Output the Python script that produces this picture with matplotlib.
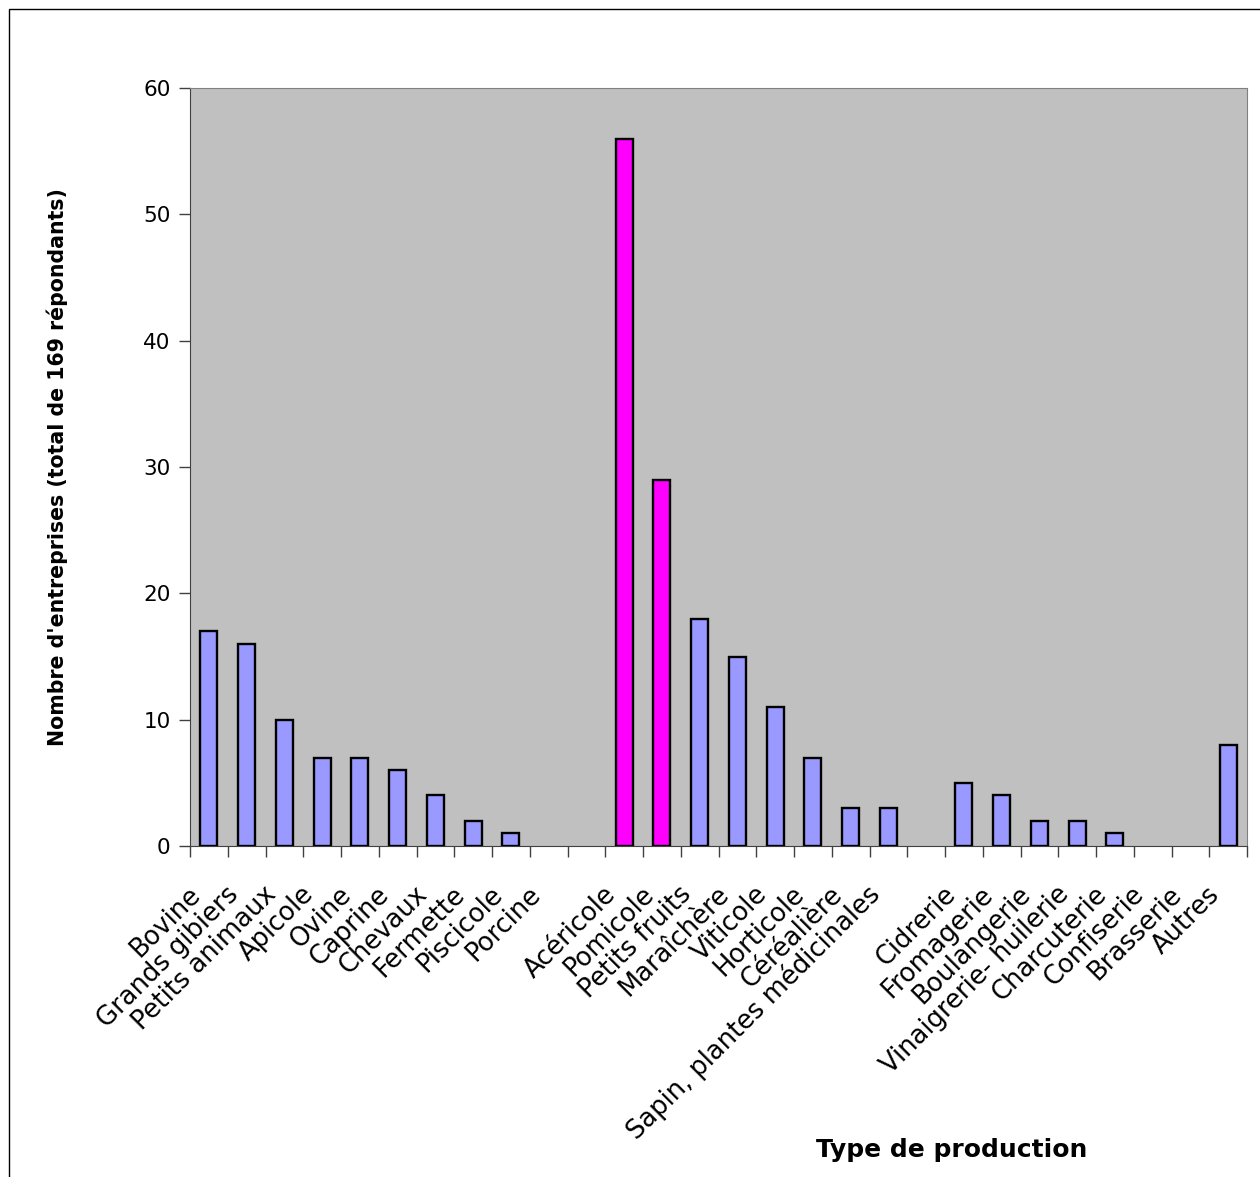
import numpy as np
import matplotlib.pyplot as plt
import matplotlib.transforms as mtransforms
from matplotlib.patches import Rectangle

# categories (empty strings are the gaps between groups)
categories = ['Bovine', 'Grands gibiers', 'Petits animaux', 'Apicole', 'Ovine',
              'Caprine', 'Chevaux', 'Fermette', 'Piscicole', 'Porcine', '',
              'Acéricole', 'Pomicole', 'Petits fruits', 'Maraîchère', 'Viticole',
              'Horticole', 'Céréalière', 'Sapin, plantes médicinales', '',
              'Cidrerie', 'Fromagerie', 'Boulangerie', 'Vinaigrerie- huilerie',
              'Charcuterie', 'Confiserie', 'Brasserie', 'Autres']
counts = [17, 16, 10, 7, 7, 6, 4, 2, 1, 0, 0,
          56, 29, 18, 15, 11, 7, 3, 3, 0,
          5, 4, 2, 2, 1, 0, 0, 8]
highlight = ['Acéricole', 'Pomicole']

BLUE = '#9999FF'
MAGENTA = '#FF00FF'

fig = plt.figure(figsize=(12.6, 11.77), dpi=100)
ax = fig.add_axes([190/1260, 1-846/1177, (1247-190)/1260, (846-88)/1177])

x = np.arange(len(categories))
colors = [MAGENTA if c in highlight else BLUE for c in categories]
lw = [1.7 if v > 0 else 0 for v in counts]
ax.bar(x, counts, width=0.45, color=colors, edgecolor='black', linewidth=lw, zorder=3)

ax.set_facecolor('#C0C0C0')
ax.set_xlim(-0.5, len(categories) - 0.5)
ax.set_ylim(0, 60)
ax.set_yticks(range(0, 61, 10))
ax.tick_params(axis='y', labelsize=15.5, length=8, width=1, color='#404040', pad=6)

# ticks between categories, labels at category centres
ax.set_xticks(np.arange(len(categories) + 1) - 0.5)
ax.set_xticklabels([])
ax.tick_params(axis='x', which='major', length=8, width=1, color='#404040')
ax.set_xticks(x, minor=True)
ax.set_xticklabels(categories, minor=True, rotation=45, ha='right', va='center',
                   rotation_mode='anchor', fontsize=18.5)
ax.tick_params(axis='x', which='minor', length=0, pad=32)
shift = mtransforms.ScaledTranslation(-12/100, 0, fig.dpi_scale_trans)
for lbl in ax.get_xticklabels(minor=True):
    lbl.set_transform(lbl.get_transform() + shift)

for s in ['left', 'bottom']:
    ax.spines[s].set_color('#404040')
for s in ['top', 'right']:
    ax.spines[s].set_color('#808080')

fig.text(57/1260, 1-467/1177, "Nombre d'entreprises (total de 169 répondants)",
         rotation=90, ha='center', va='center', fontsize=14.8, fontweight='bold')
fig.text(952/1260, 1-1150/1177, 'Type de production', ha='center', va='center',
         fontsize=18, fontweight='bold')

fig.patches.append(Rectangle((9/1260, -0.01), 1.02, 1 - 9/1177 + 0.01,
                             transform=fig.transFigure, fill=False,
                             edgecolor='black', linewidth=1))

fig.savefig('out.png', dpi=100, facecolor='white')
